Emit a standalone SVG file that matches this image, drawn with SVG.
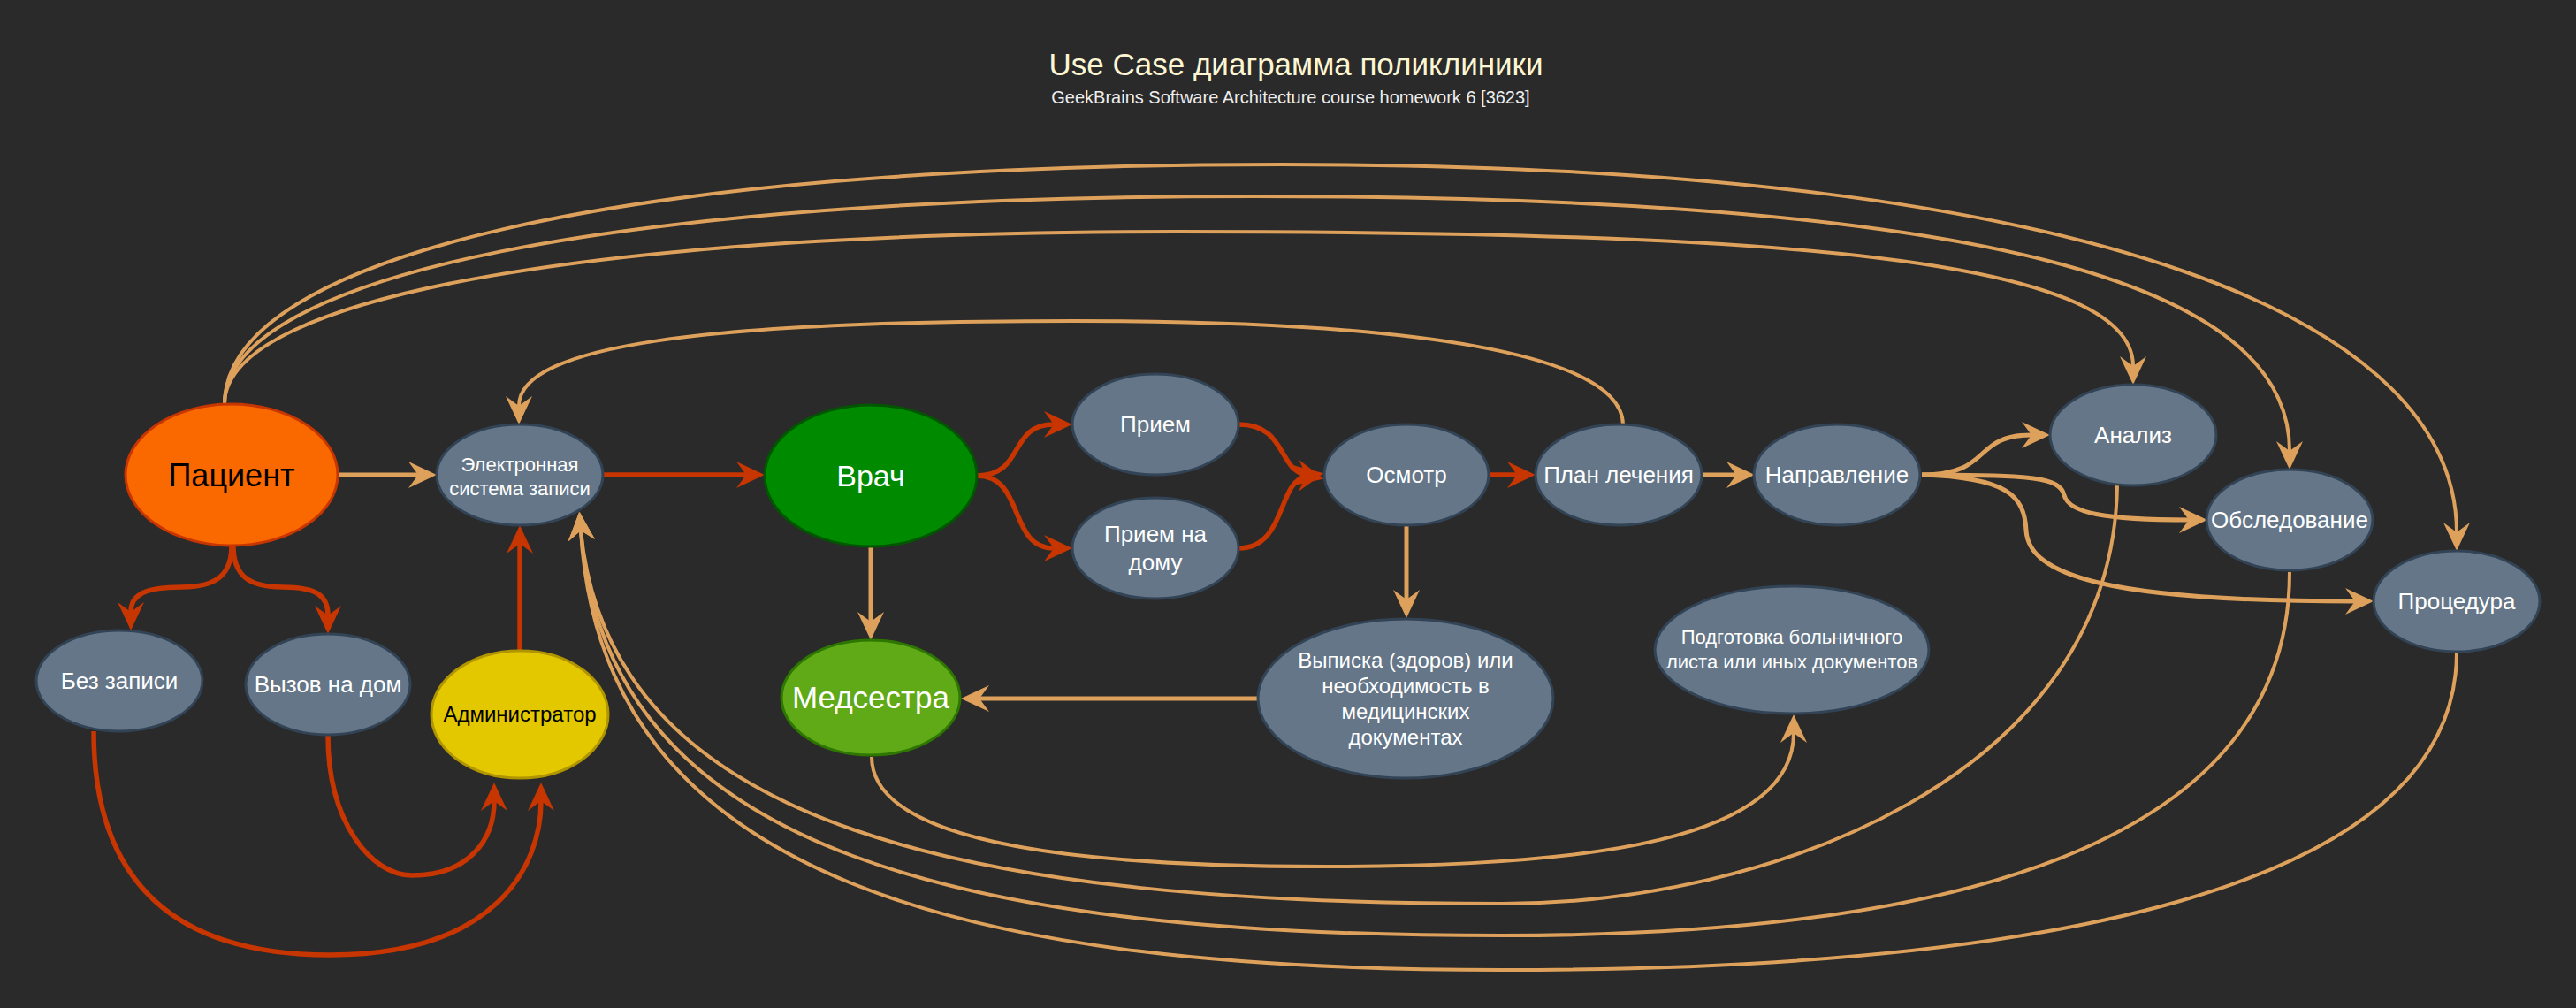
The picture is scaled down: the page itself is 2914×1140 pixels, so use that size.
<svg xmlns="http://www.w3.org/2000/svg" width="2914" height="1140" viewBox="0 0 2914 1140">
<style>
.bg{fill:#2a2a2a}
.uc{fill:#647687;stroke:#314354;stroke-width:3}
text{font-family:"Liberation Sans",Arial,sans-serif;text-anchor:middle}
.w{fill:#ffffff}
.k{fill:#000000}
.red{fill:none;stroke:#c73500;stroke-width:5.5}
.org{fill:none;stroke:#dea15c;stroke-width:5}
.arc{fill:none;stroke:#dea15c;stroke-width:4}
.mr{marker-end:url(#ar)}
.mo{marker-end:url(#ao)}
</style>
<defs>
<marker id="ar" viewBox="0 0 32 30" markerWidth="32" markerHeight="30" refX="11" refY="15" orient="auto" markerUnits="userSpaceOnUse"><path d="M0,0 L32,15 L0,30 L11,15 Z" fill="#c73500"/></marker>
<marker id="ao" viewBox="0 0 32 30" markerWidth="32" markerHeight="30" refX="11" refY="15" orient="auto" markerUnits="userSpaceOnUse"><path d="M0,0 L32,15 L0,30 L11,15 Z" fill="#dea15c"/></marker>
</defs>
<rect class="bg" x="0" y="0" width="2914" height="1140"/>
<g id="title">
<text x="1466" y="85" font-size="35" fill="#fdf6d3">Use Case диаграмма поликлиники</text>
<text x="1460" y="117" font-size="20" fill="#eeeeee">GeekBrains Software Architecture course homework 6 [3623]</text>
</g>
<g id="connectors">
<path class="org mo" d="M383,537 L473,537"/>
<path class="red mr" d="M682,537 L844,537"/>
<path class="red mr" d="M588,736 L588,615"/>
<path class="red mr" d="M262,617 C262,650 245,664 205,664 C165,664 148,672 148,692"/>
<path class="red mr" d="M264,617 C264,650 280,664 320,664 C360,664 371,675 371,696"/>
<path class="red mr" d="M106,827 C106,1000 200,1080 373,1080 C560,1080 612,980 612,906"/>
<path class="red mr" d="M371,832 C371,930 420,990 466,990 C530,990 559,950 559,906"/>
<path class="red mr" d="M1105,538 C1160,538 1140,480 1192,480"/>
<path class="red mr" d="M1105,538 C1160,538 1140,620 1192,620"/>
<path class="red mr" d="M1401,480 C1455,480 1445,530 1477,537"/>
<path class="red mr" d="M1401,620 C1455,620 1445,545 1477,539"/>
<path class="red mr" d="M1684,537 L1716,537"/>
<path class="org mo" d="M1925,537 L1964,537"/>
<path class="org mo" d="M985,618 L985,703"/>
<path class="org mo" d="M1591,594 L1591,678"/>
<path class="org mo" d="M1423,790 L1108,790"/>
<path class="org mo" d="M2174,537 C2255,537 2230,492 2298,492"/>
<path class="org mo" d="M2174,537 C2300,537 2330,540 2335,560 C2340,580 2380,588 2476,588"/>
<path class="org mo" d="M2174,537 C2270,540 2290,560 2292,600 C2295,650 2380,680 2664,680"/>
<path class="arc mo" d="M1836,481 C1836,400 1600,363 1214,363 C800,363 587,390 587,459"/>
<path class="arc mo" d="M254,457 C254,330 700,262 1330,262 C2000,262 2413,290 2413,414"/>
<path class="arc mo" d="M254,457 C254,310 700,222 1418,222 C2250,222 2590,320 2590,510"/>
<path class="arc mo" d="M254,457 C254,290 700,186 1450,186 C2400,186 2779,370 2779,602"/>
<path class="arc mo" d="M986,856 C986,960 1250,980 1500,980 C1800,980 2029,950 2029,829"/>
<path class="arc mo" d="M2395,549 C2390,880 2000,1022 1700,1022 C1100,1022 690,940 657,600"/>
<path class="arc mo" d="M2590,647 C2590,960 2200,1058 1700,1058 C1100,1058 685,970 657,600"/>
<path class="arc mo" d="M2779,738 C2779,1010 2300,1097 1700,1097 C1100,1097 680,1000 657,600"/>
</g>
<g id="patient">
<ellipse cx="262" cy="537" rx="120" ry="80" fill="#fa6800" stroke="#c73500" stroke-width="3"/>
<text class="k" x="262" y="550" font-size="36">Пациент</text>
</g>
<g id="e-registry">
<ellipse class="uc" cx="588" cy="537" rx="94" ry="57"/>
<text class="w" x="588" y="533" font-size="22">Электронная</text>
<text class="w" x="588" y="560" font-size="22">система записи</text>
</g>
<g id="walk-in">
<ellipse class="uc" cx="135" cy="770" rx="94" ry="57"/>
<text class="w" x="135" y="779" font-size="26">Без записи</text>
</g>
<g id="home-call">
<ellipse class="uc" cx="371" cy="774" rx="93" ry="57"/>
<text class="w" x="371" y="783" font-size="26">Вызов на дом</text>
</g>
<g id="admin">
<ellipse cx="588" cy="808" rx="100" ry="72" fill="#e3c800" stroke="#b09500" stroke-width="3"/>
<text class="k" x="588" y="816" font-size="24">Администратор</text>
</g>
<g id="doctor">
<ellipse cx="985" cy="538" rx="120" ry="80" fill="#008a00" stroke="#005700" stroke-width="3"/>
<text class="w" x="985" y="550" font-size="34">Врач</text>
</g>
<g id="reception">
<ellipse class="uc" cx="1307" cy="480" rx="94" ry="57"/>
<text class="w" x="1307" y="489" font-size="26">Прием</text>
</g>
<g id="home-reception">
<ellipse class="uc" cx="1307" cy="620" rx="94" ry="57"/>
<text class="w" x="1307" y="613" font-size="26">Прием на</text>
<text class="w" x="1307" y="645" font-size="26">дому</text>
</g>
<g id="exam">
<ellipse class="uc" cx="1591" cy="537" rx="93" ry="57"/>
<text class="w" x="1591" y="546" font-size="26">Осмотр</text>
</g>
<g id="plan">
<ellipse class="uc" cx="1831" cy="537" rx="94" ry="57"/>
<text class="w" x="1831" y="546" font-size="26">План лечения</text>
</g>
<g id="referral">
<ellipse class="uc" cx="2078" cy="537" rx="94" ry="57"/>
<text class="w" x="2078" y="546" font-size="26">Направление</text>
</g>
<g id="nurse">
<ellipse cx="985" cy="789" rx="101" ry="65" fill="#60a917" stroke="#2d7600" stroke-width="3"/>
<text class="w" x="985" y="801" font-size="35">Медсестра</text>
</g>
<g id="discharge">
<ellipse class="uc" cx="1590" cy="790" rx="167" ry="90"/>
<text class="w" x="1590" y="755" font-size="24">Выписка (здоров) или</text>
<text class="w" x="1590" y="784" font-size="24">необходимость в</text>
<text class="w" x="1590" y="813" font-size="24">медицинских</text>
<text class="w" x="1590" y="842" font-size="24">документах</text>
</g>
<g id="sick-leave">
<ellipse class="uc" cx="2027" cy="735" rx="155" ry="72"/>
<text class="w" x="2027" y="728" font-size="22">Подготовка больничного</text>
<text class="w" x="2027" y="756" font-size="22">листа или иных документов</text>
</g>
<g id="analysis">
<ellipse class="uc" cx="2413" cy="492" rx="94" ry="57"/>
<text class="w" x="2413" y="501" font-size="26">Анализ</text>
</g>
<g id="examination">
<ellipse class="uc" cx="2590" cy="588" rx="94" ry="57"/>
<text class="w" x="2590" y="597" font-size="26">Обследование</text>
</g>
<g id="procedure">
<ellipse class="uc" cx="2779" cy="680" rx="94" ry="57"/>
<text class="w" x="2779" y="689" font-size="26">Процедура</text>
</g>
</svg>
